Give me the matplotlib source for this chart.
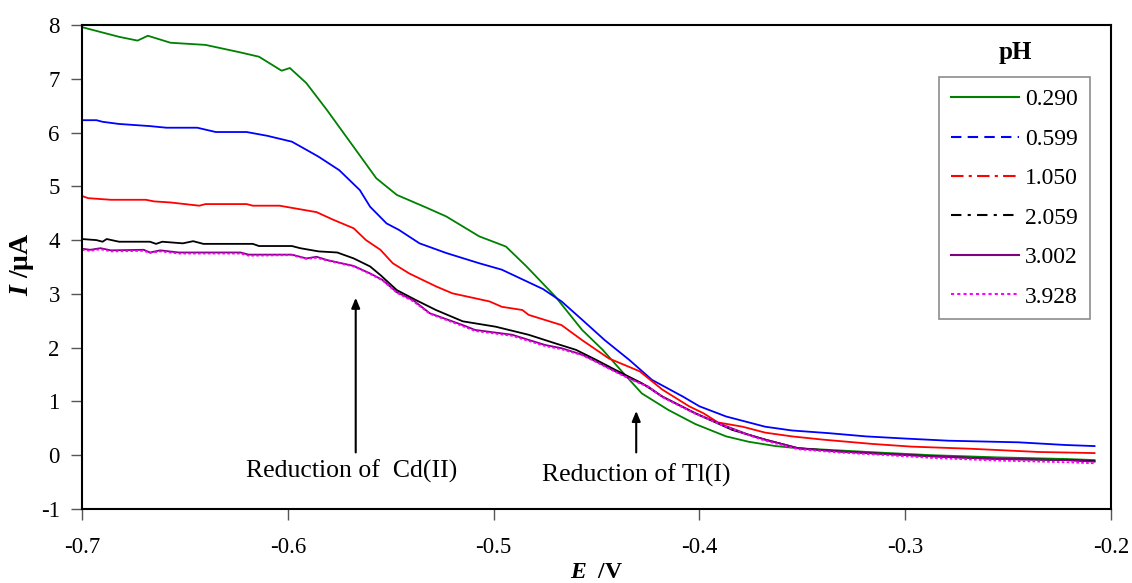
import matplotlib
matplotlib.use("Agg")
import matplotlib.pyplot as plt
from matplotlib.lines import Line2D

plt.rcParams['font.family'] = ['Liberation Serif', 'DejaVu Serif']
plt.rcParams['mathtext.fontset'] = 'custom'
plt.rcParams['mathtext.rm'] = 'Liberation Serif:bold'
plt.rcParams['mathtext.it'] = 'Liberation Serif:italic:bold'
plt.rcParams['mathtext.bf'] = 'Liberation Serif:bold'

labels = ["0.290", "0.599", "1.050", "2.059", "3.002", "3.928"]
colors = ["#008000", "#0000FF", "#FF0000", "#000000", "#800080", "#FF00FF"]

E_green = [-0.700, -0.682, -0.673, -0.668, -0.657, -0.640, -0.623, -0.614, -0.603, -0.599,
           -0.591, -0.581, -0.567, -0.557, -0.547, -0.533, -0.523, -0.507, -0.494, -0.484,
           -0.470, -0.457, -0.447, -0.437, -0.428, -0.415, -0.402, -0.387, -0.376, -0.363,
           -0.352, -0.313, -0.287, -0.255, -0.222, -0.208]
I_green = [7.96, 7.78, 7.71, 7.80, 7.67, 7.63, 7.49, 7.41, 7.15, 7.20,
           6.92, 6.42, 5.68, 5.15, 4.84, 4.61, 4.44, 4.07, 3.88, 3.51,
           2.95, 2.33, 1.96, 1.53, 1.15, 0.84, 0.58, 0.35, 0.25, 0.17,
           0.13, 0.05, 0.00, -0.04, -0.07, -0.09]

E_blue = [-0.700, -0.693, -0.690, -0.682, -0.667, -0.659, -0.644, -0.635, -0.620, -0.610,
          -0.598, -0.591, -0.585, -0.575, -0.565, -0.560, -0.552, -0.546, -0.536, -0.523,
          -0.507, -0.496, -0.476, -0.467, -0.457, -0.446, -0.434, -0.423, -0.408, -0.400,
          -0.387, -0.368, -0.355, -0.337, -0.319, -0.300, -0.279, -0.245, -0.222, -0.208]
I_blue = [6.23, 6.23, 6.20, 6.16, 6.12, 6.09, 6.09, 6.01, 6.01, 5.94,
          5.83, 5.68, 5.55, 5.30, 4.93, 4.62, 4.31, 4.19, 3.94, 3.76,
          3.57, 3.45, 3.09, 2.86, 2.52, 2.14, 1.77, 1.40, 1.09, 0.91,
          0.72, 0.53, 0.46, 0.41, 0.35, 0.31, 0.27, 0.24, 0.19, 0.17]

E_red = [-0.700, -0.697, -0.686, -0.669, -0.665, -0.657, -0.643, -0.640, -0.620, -0.617,
         -0.604, -0.598, -0.586, -0.578, -0.568, -0.562, -0.555, -0.549, -0.541, -0.528,
         -0.520, -0.502, -0.496, -0.486, -0.483, -0.467, -0.457, -0.444, -0.429, -0.418,
         -0.405, -0.398, -0.391, -0.379, -0.368, -0.355, -0.340, -0.316, -0.297, -0.268,
         -0.235, -0.208]
I_red = [4.82, 4.78, 4.75, 4.75, 4.72, 4.70, 4.64, 4.67, 4.67, 4.64,
         4.64, 4.60, 4.52, 4.38, 4.22, 4.00, 3.82, 3.57, 3.38, 3.14,
         3.01, 2.86, 2.76, 2.70, 2.61, 2.42, 2.14, 1.80, 1.56, 1.22,
         0.91, 0.78, 0.61, 0.53, 0.42, 0.35, 0.29, 0.21, 0.16, 0.12,
         0.06, 0.04]

E_black = [-0.700, -0.693, -0.690, -0.688, -0.682, -0.667, -0.664, -0.661, -0.651, -0.646,
           -0.641, -0.617, -0.614, -0.598, -0.594, -0.585, -0.576, -0.568, -0.560, -0.555,
           -0.547, -0.538, -0.528, -0.515, -0.499, -0.483, -0.470, -0.460, -0.450, -0.441,
           -0.428, -0.418, -0.402, -0.384, -0.368, -0.352, -0.332, -0.313, -0.287, -0.255,
           -0.222, -0.208]
I_black = [4.02, 4.00, 3.97, 4.02, 3.97, 3.97, 3.93, 3.97, 3.94, 3.98,
           3.93, 3.93, 3.89, 3.89, 3.85, 3.79, 3.77, 3.66, 3.51, 3.35,
           3.07, 2.89, 2.70, 2.49, 2.39, 2.24, 2.08, 1.96, 1.77, 1.59,
           1.34, 1.09, 0.78, 0.47, 0.29, 0.13, 0.07, 0.03, -0.02, -0.07,
           -0.09, -0.11]

E_purple = [-0.700, -0.696, -0.691, -0.686, -0.670, -0.667, -0.662, -0.653, -0.623, -0.619,
            -0.598, -0.591, -0.586, -0.581, -0.568, -0.560, -0.554, -0.547, -0.539, -0.531,
            -0.515, -0.509, -0.491, -0.475, -0.467, -0.457, -0.450, -0.444, -0.434, -0.425,
            -0.418, -0.402, -0.389, -0.376, -0.368, -0.352, -0.332, -0.313, -0.287, -0.255,
            -0.222, -0.208]
I_purple = [3.84, 3.82, 3.85, 3.81, 3.82, 3.77, 3.81, 3.77, 3.77, 3.73,
            3.73, 3.66, 3.69, 3.63, 3.52, 3.38, 3.26, 3.03, 2.88, 2.64,
            2.42, 2.33, 2.24, 2.05, 1.99, 1.87, 1.74, 1.62, 1.43, 1.28,
            1.09, 0.78, 0.57, 0.38, 0.29, 0.13, 0.07, 0.03, -0.02, -0.07,
            -0.09, -0.12]

E_magenta = E_purple
I_magenta = [3.82, 3.80, 3.83, 3.79, 3.80, 3.76, 3.79, 3.75, 3.75, 3.71,
             3.72, 3.65, 3.67, 3.62, 3.51, 3.37, 3.25, 3.02, 2.86, 2.63,
             2.40, 2.31, 2.22, 2.03, 1.97, 1.86, 1.73, 1.61, 1.42, 1.27,
             1.08, 0.77, 0.56, 0.37, 0.27, 0.11, 0.05, 0.01, -0.05, -0.10,
             -0.13, -0.15]

series = [(E_green, I_green), (E_blue, I_blue), (E_red, I_red),
          (E_black, I_black), (E_purple, I_purple), (E_magenta, I_magenta)]
plot_styles = ['-', '-', '-', '-', '-', (0, (1.5, 1.2))]
legend_styles = ['-', (0, (5, 3)), (0, (6, 2.5, 1.5, 2.5)), (0, (5, 3, 1.5, 3)), '-', (0, (1.5, 1.5))]

fig = plt.figure(figsize=(11.32, 5.83), dpi=100)
ax = fig.add_axes([82/1132, 1-509/583, (1111-82)/1132, (509-25)/583])

for (e, i), c, ls in zip(series, colors, plot_styles):
    ax.plot(e, i, color=c, lw=1.3, ls=ls)

ax.set_xlim(-0.7, -0.2)
ax.set_ylim(-1, 8)
ax.set_xticks([-0.7, -0.6, -0.5, -0.4, -0.3, -0.2])
ax.set_xticklabels(["-0.7", "-0.6", "-0.5", "-0.4", "-0.3", "-0.2"])
ax.set_yticks(range(-1, 9))
ax.set_yticklabels([str(v) for v in range(-1, 9)])
ax.tick_params(axis='both', labelsize=16.5, direction='out', length=8, width=1, color='#555555')
ax.tick_params(axis='x', pad=12)
ax.tick_params(axis='y', pad=8)
for s in ax.spines.values():
    s.set_linewidth(1.5)
    s.set_color('black')

fig.text(597/1132, 1-572/583, r'$E$  /V', fontsize=17, fontweight='bold', ha='center', va='center')
fig.text(22/1132, 1-264/583, r'$I$ /μA', fontsize=20, fontweight='bold', rotation=90,
         ha='center', va='center')

# annotations
ax.annotate('', xy=(-0.567, 2.98), xytext=(-0.567, 0.0),
            arrowprops=dict(arrowstyle='-|>,head_length=0.6,head_width=0.25', color='black', lw=1.5))
ax.text(-0.569, -0.30, 'Reduction of  Cd(II)', fontsize=18.5, ha='center', va='center')
ax.annotate('', xy=(-0.4307, 0.875), xytext=(-0.4307, 0.0),
            arrowprops=dict(arrowstyle='-|>,head_length=0.6,head_width=0.25', color='black', lw=1.5))
ax.text(-0.4305, -0.38, 'Reduction of Tl(I)', fontsize=18.5, ha='center', va='center')

handles = [Line2D([0], [0], color=c, lw=1.5, ls=ls) for c, ls in zip(colors, legend_styles)]
leg = ax.legend(handles, labels, loc='upper left', bbox_to_anchor=((939-82)/1029, (509-77)/484),
                fontsize=17, frameon=True, fancybox=False, handlelength=2.9, handletextpad=0.25,
                labelspacing=0.76, borderpad=0.5, borderaxespad=0)
leg.get_frame().set_edgecolor('#707070')
leg.get_frame().set_linewidth(1.2)
ax.text((1015-82)/1029, (509-53)/484, 'pH', transform=ax.transAxes, fontsize=18,
        fontweight='bold', ha='center', va='center')

fig.savefig('out.png', dpi=100)
